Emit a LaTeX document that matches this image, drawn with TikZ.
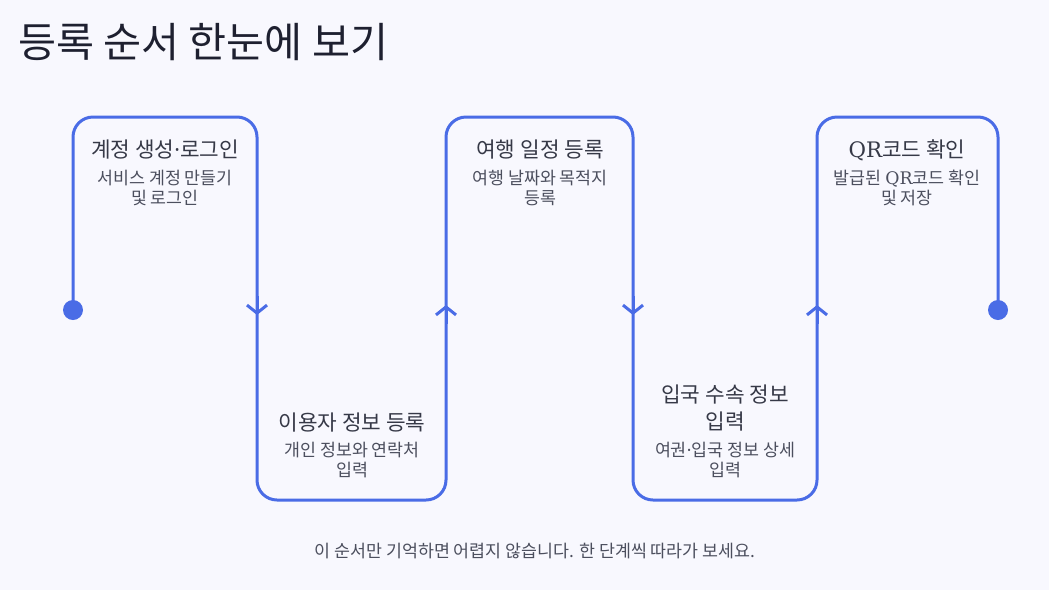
\documentclass[tikz,border=0pt]{standalone}
\usepackage{fontspec}
\setmainfont{Noto Sans CJK KR}
\newfontfamily\qrfont{DejaVu Serif}
\newfontfamily\dotfont{Noto Sans}
\usetikzlibrary{arrows.meta}

\definecolor{flowblue}{HTML}{4A6CE6}
\definecolor{pagebg}{HTML}{F8F8FE}
\definecolor{inkdark}{HTML}{1E2030}
\definecolor{inkmid}{HTML}{363947}
\definecolor{inksoft}{HTML}{4C4F5E}

\newcommand{\middot}{{\dotfont ·}}

\tikzset{
  flow/.style={draw=flowblue, line width=2.25pt, rounded corners=15pt},
  chevron/.style={draw=flowblue, line width=2.25pt, -{Straight Barb[length=6pt,width=15pt]}},
  dotmark/.style={circle, fill=flowblue, minimum size=15pt, inner sep=0pt},
  stepname/.style={text=inkmid, font=\fontsize{16}{20}\selectfont, align=center},
  stepnote/.style={text=inksoft, font=\fontsize{13}{15}\selectfont, align=center},
}

\begin{document}
\begin{tikzpicture}[x=0.75pt,y=-0.75pt]
    \fill[pagebg] (0,0) rectangle (1049,590);
    \useasboundingbox (0,0) rectangle (1049,590);
    %
    \node[anchor=west, inner sep=0pt, text=inkdark, font=\fontsize{31}{36}\selectfont] (title) at (18,42) {등록 순서 한눈에 보기};
    %
    \draw[flow] (73,310) -- (73,117) -- (257,117) -- (257,500) -- (446,500) -- (446,117)
        -- (633,117) -- (633,500) -- (817,500) -- (817,117) -- (998,117) -- (998,310);
    \node[dotmark] (start) at (73,310) {};
    \node[dotmark] (finish) at (998,310) {};
    %
    \draw[chevron] (257,296) -- (257,315);
    \draw[chevron] (446,324) -- (446,305);
    \draw[chevron] (633,296) -- (633,315);
    \draw[chevron] (817,324) -- (817,305);
    %
    \node[stepname] (account) at (165,150) {계정 생성\middot 로그인};
    \node[stepnote] (accountnote) at (165,188) {서비스 계정 만들기\\및 로그인};
    %
    \node[stepname] (profile) at (352,423) {이용자 정보 등록};
    \node[stepnote] (profilenote) at (352,460) {개인 정보와 연락처\\입력};
    %
    \node[stepname] (trip) at (540,150) {여행 일정 등록};
    \node[stepnote] (tripnote) at (540,188) {여행 날짜와 목적지\\등록};
    %
    \node[stepname] (entry) at (725,408) {입국 수속 정보\\입력};
    \node[stepnote] (entrynote) at (725,460) {여권\middot 입국 정보 상세\\입력};
    %
    \node[stepname] (qrcode) at (907,150) {{\qrfont QR}코드 확인};
    \node[stepnote] (qrcodenote) at (907,188) {발급된 {\qrfont QR}코드 확인\\및 저장};
    %
    \node[text=inksoft, font=\fontsize{13}{15}\selectfont] (footer) at (535,551) {이 순서만 기억하면 어렵지 않습니다. 한 단계씩 따라가 보세요.};
\end{tikzpicture}
\end{document}
